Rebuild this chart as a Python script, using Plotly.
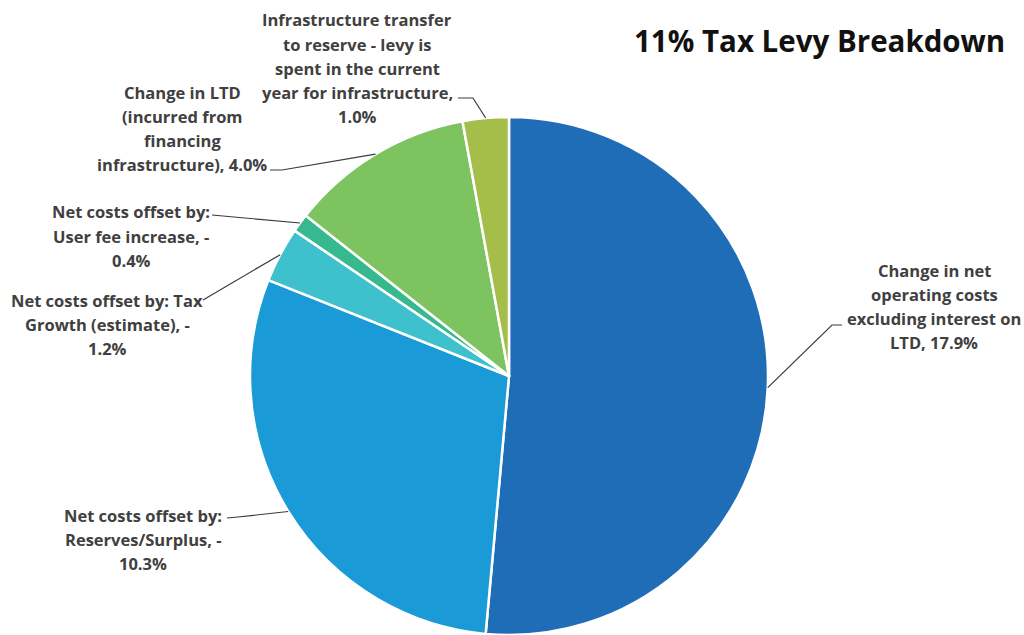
import math
import plotly.graph_objects as go

# Components of the 11% tax levy (percentage points)
categories = [
    "Change in net operating costs excluding interest on LTD",
    "Net costs offset by: Reserves/Surplus",
    "Net costs offset by: Tax Growth (estimate)",
    "Net costs offset by: User fee increase",
    "Change in LTD (incurred from financing infrastructure)",
    "Infrastructure transfer to reserve - levy is spent in the current year for infrastructure",
]
values = [17.9, -10.3, -1.2, -0.4, 4.0, 1.0]
colors = ["#1F6DB6", "#1A9AD6", "#3EC0CD", "#37B98F", "#7DC35F", "#A5BE4A"]

# Wrapped label lines for each slice
label_lines = [
    ["Change in net", "operating costs", "excluding interest on", "LTD, 17.9%"],
    ["Net costs offset by:", "Reserves/Surplus, -", "10.3%"],
    ["Net costs offset by: Tax", "Growth (estimate), -", "1.2%"],
    ["Net costs offset by:", "User fee increase, -", "0.4%"],
    ["Change in LTD", "(incurred from", "financing", "infrastructure), 4.0%"],
    ["Infrastructure transfer", "to reserve - levy is", "spent in the current", "year for infrastructure,", "1.0%"],
]

W, H = 1024, 635
CX, CY, R = 509, 376, 259          # pie centre and radius in pixels
LINE_H = 24.2                     # label line spacing in pixels

# Label block placement: (centre x, first line y) in pixels
label_pos = [(934, 270), (143, 515), (107, 300), (131, 212), (182, 92), (357, 20)]
# Leader line waypoints after the slice edge, in pixels
leader_pts = [
    [(832, 325), (842, 325)],
    [(238, 517), (227, 518)],
    [(203, 300)],
    [(212, 215)],
    [(282, 170), (270, 170)],
    [(473, 98), (458, 98)],
]


def px(x):
    return x / W


def py(y):
    return 1 - y / H


sizes = [abs(v) for v in values]
total = sum(sizes)

fig = go.Figure(
    go.Pie(
        labels=categories,
        values=sizes,
        sort=False,
        direction="clockwise",
        rotation=0,
        marker=dict(colors=colors, line=dict(color="white", width=2.5)),
        textinfo="none",
        hoverinfo="label+value",
        showlegend=False,
        domain=dict(x=[px(CX - R), px(CX + R)], y=[max(0, py(CY + R)), py(CY - R)]),
    )
)

shapes = []
annotations = []
cum = 0.0
for i, s in enumerate(sizes):
    mid = (cum + s / 2) / total * 2 * math.pi
    cum += s
    sx = CX + R * math.sin(mid)
    sy = CY - R * math.cos(mid)
    pts = [(sx, sy)] + leader_pts[i]
    path = "M " + " L ".join(f"{px(x):.5f},{py(y):.5f}" for x, y in pts)
    shapes.append(dict(type="path", path=path, xref="paper", yref="paper",
                       line=dict(color="#3a3a3a", width=1.2)))
    lx, ly = label_pos[i]
    for k, line in enumerate(label_lines[i]):
        annotations.append(dict(
            x=px(lx), y=py(ly + k * LINE_H), xref="paper", yref="paper",
            text=line, showarrow=False, xanchor="center", yanchor="middle",
            font=dict(family="Open Sans", size=16.5, color="#404040", weight="bold"),
        ))

annotations.append(dict(
    x=px(819), y=py(40), xref="paper", yref="paper",
    text="<b>11% Tax Levy Breakdown</b>", showarrow=False,
    xanchor="center", yanchor="middle",
    font=dict(family="Open Sans", size=29.5, color="#111111"),
))

fig.update_layout(
    width=W, height=H,
    margin=dict(l=0, r=0, t=0, b=0),
    paper_bgcolor="white", plot_bgcolor="white",
    shapes=shapes, annotations=annotations,
)

fig.write_html("out.html")
